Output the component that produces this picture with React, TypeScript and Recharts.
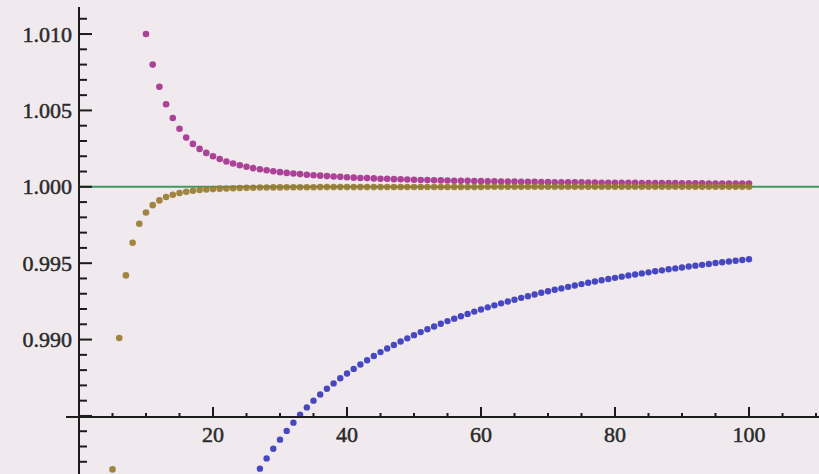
import { ComposedChart, Scatter, XAxis, YAxis } from 'recharts'

const magentaStart = 10
const magentaValues = [
  1.01, 1.008, 1.00655, 1.0054, 1.0045, 1.0038, 1.00322, 1.00281, 1.00248, 1.00222,
  1.002, 1.00182, 1.00166, 1.00153, 1.00141, 1.00131, 1.00122, 1.00115, 1.00108, 1.00102,
  1.00096, 1.00091, 1.00087, 1.00083, 1.00079, 1.00076, 1.00073, 1.0007, 1.00067, 1.00065,
  1.00063, 1.0006, 1.00058, 1.00057, 1.00055, 1.00053, 1.00052, 1.0005, 1.00049, 1.00048,
  1.00046, 1.00045, 1.00044, 1.00043, 1.00042, 1.00041, 1.0004, 1.00039, 1.00039, 1.00038,
  1.00037, 1.00036, 1.00036, 1.00035, 1.00034, 1.00034, 1.00033, 1.00033, 1.00032, 1.00031,
  1.00031, 1.0003, 1.0003, 1.00029, 1.00029, 1.00029, 1.00028, 1.00028, 1.00027, 1.00027,
  1.00027, 1.00026, 1.00026, 1.00026, 1.00025, 1.00025, 1.00025, 1.00024, 1.00024, 1.00024,
  1.00023, 1.00023, 1.00023, 1.00023, 1.00022, 1.00022, 1.00022, 1.00022, 1.00021, 1.00021,
  1.00021,
]

const oliveStart = 5
const oliveValues = [
  0.9815, 0.9901, 0.9942, 0.99634, 0.99758,
  0.99832, 0.9988, 0.99911, 0.99933, 0.99948, 0.99959, 0.99968, 0.99974, 0.99979, 0.99982,
  0.99985, 0.99988, 0.99989, 0.99991, 0.99992, 0.99993, 0.99994, 0.99995, 0.99995, 0.99996,
  0.99996, 0.99997, 0.99997, 0.99997, 0.99997, 0.99997, 0.99998, 0.99998, 0.99998, 0.99998,
  0.99998, 0.99998, 0.99998, 0.99998, 0.99998, 0.99998, 0.99999, 0.99999, 0.99999, 0.99999,
  0.99999, 0.99999, 0.99999, 0.99999, 0.99999, 0.99999, 0.99999, 0.99999, 0.99999, 0.99999,
  0.99999, 1, 1, 1, 1, 1, 1, 1, 1, 1,
  1, 1, 1, 1, 1, 1, 1, 1, 1, 1,
  1, 1, 1, 1, 1, 1, 1, 1, 1, 1,
  1, 1, 1, 1, 1, 1, 1, 1, 1, 1,
  1,
]

const blueStart = 27
const blueValues = [
  0.98155, 0.98222, 0.98285,
  0.98345, 0.98402, 0.98456, 0.98508, 0.98556, 0.986, 0.9864, 0.98678, 0.98713, 0.98747,
  0.98778, 0.98808, 0.98837, 0.98865, 0.98892, 0.98918, 0.98942, 0.98964, 0.98987, 0.99008,
  0.99029, 0.99049, 0.99068, 0.99086, 0.99104, 0.99121, 0.99137, 0.99153, 0.99168, 0.99183,
  0.99197, 0.99211, 0.99224, 0.99237, 0.99249, 0.99261, 0.99273, 0.99284, 0.99295, 0.99306,
  0.99316, 0.99326, 0.99335, 0.99345, 0.99354, 0.99363, 0.99372, 0.9938, 0.99388, 0.99396,
  0.99404, 0.99412, 0.99419, 0.99426, 0.99433, 0.9944, 0.99447, 0.99453, 0.9946, 0.99466,
  0.99472, 0.99478, 0.99484, 0.99489, 0.99495, 0.99501, 0.99506, 0.99511, 0.99516, 0.99521,
  0.99526,
]

// the constant reference curve y = 1
const greenX = [0, 112]
const greenValues = [1, 1]

const xMajor = [20, 40, 60, 80, 100]
const xTicks = [5, 10, 15, 20, 25, 30, 35, 40, 45, 50, 55, 60, 65, 70, 75, 80, 85, 90, 95, 100, 105, 110]
const yMajor = [0.985, 0.99, 0.995, 1, 1.005, 1.01]
const yLabels: Record<string, string> = {
  '0.99': '0.990',
  '0.995': '0.995',
  '1': '1.000',
  '1.005': '1.005',
  '1.01': '1.010',
}
const yTicks = [
  0.982, 0.983, 0.984, 0.985, 0.986, 0.987, 0.988, 0.989, 0.99, 0.991,
  0.992, 0.993, 0.994, 0.995, 0.996, 0.997, 0.998, 0.999, 1, 1.001,
  1.002, 1.003, 1.004, 1.005, 1.006, 1.007, 1.008, 1.009, 1.01, 1.011,
]

const toPoints = (start: number, values: number[]) =>
  values.map((y, i) => ({ x: start + i, y }))

const magentaData = toPoints(magentaStart, magentaValues)
const oliveData = toPoints(oliveStart, oliveValues)
const blueData = toPoints(blueStart, blueValues)
const greenData = greenX.map((x, i) => ({ x, y: greenValues[i] }))

const W = 819
const H = 474
const BG = '#f0eaee'
const INK = '#1c1c1c'
const FONT = '"Liberation Serif", "DejaVu Serif", serif'

const isMajor = (list: number[], v: number) => list.some((m) => Math.abs(m - v) < 1e-9)

function YTick(props: any) {
  const { x, y, payload } = props
  const v = payload.value
  const major = isMajor(yMajor, v)
  const label = yLabels[String(v)]
  return (
    <g>
      <line x1={x} x2={x + (major ? 13 : 8)} y1={y} y2={y} stroke={INK} strokeWidth={2} />
      {label && (
        <text
          x={x - 7}
          y={y + 7.5}
          textAnchor='end'
          fontFamily={FONT}
          fontSize={22}
          fill='#2a2a2a'
          stroke='#2a2a2a'
          strokeWidth={0.5}
        >
          {label}
        </text>
      )}
    </g>
  )
}

function XTick(props: any) {
  const { x, y, payload } = props
  const v = payload.value
  const major = isMajor(xMajor, v)
  return (
    <g>
      <line x1={x} x2={x} y1={y} y2={y - (major ? 10 : 4)} stroke={INK} strokeWidth={2} />
      {major && (
        <text
          x={x}
          y={y + 25}
          textAnchor='middle'
          fontFamily={FONT}
          fontSize={22}
          fill='#2a2a2a'
          stroke='#2a2a2a'
          strokeWidth={0.5}
        >
          {v}
        </text>
      )}
    </g>
  )
}

const dot = (r: number, fill: string) => (p: any) =>
  <circle cx={p.cx} cy={p.cy} r={r} fill={fill} fillOpacity={0.9} />

export default function App() {
  return (
    <div style={{ position: 'absolute', left: 0, top: 0, width: W, height: H, background: BG }}>
      <div style={{ position: 'absolute', left: 0, top: 0 }}>
        <ComposedChart width={W} height={H} margin={{ top: 7, right: 0, bottom: 0, left: 0 }}>
          <XAxis type='number' dataKey='x' domain={[0, 110.448]} allowDataOverflow hide />
          <YAxis
            type='number'
            dataKey='y'
            domain={[0.9812, 1.01177]}
            allowDataOverflow
            width={79}
            ticks={yTicks}
            interval={0}
            tickSize={0}
            tickMargin={0}
            tickLine={false}
            tick={<YTick />}
            axisLine={{ stroke: INK, strokeWidth: 2 }}
          />
          <Scatter
            data={greenData}
            line={{ stroke: '#3f9a62', strokeWidth: 2 }}
            shape={() => <g />}
            isAnimationActive={false}
          />
          <Scatter data={blueData} shape={dot(3.2, '#3535bd')} isAnimationActive={false} />
          <Scatter data={magentaData} shape={dot(3.3, '#a3308d')} isAnimationActive={false} />
          <Scatter data={oliveData} shape={dot(3.3, '#98792c')} isAnimationActive={false} />
        </ComposedChart>
      </div>
      <div style={{ position: 'absolute', left: 0, top: 0 }}>
        <ComposedChart width={W} height={H} margin={{ top: 7, right: 0, bottom: 0, left: 66 }}>
          <XAxis
            type='number'
            dataKey='x'
            domain={[-1.9403, 110.448]}
            allowDataOverflow
            height={57}
            ticks={xTicks}
            interval={0}
            tickSize={0}
            tickMargin={0}
            tickLine={false}
            tick={<XTick />}
            axisLine={{ stroke: INK, strokeWidth: 2 }}
          />
          <YAxis type='number' domain={[0, 1]} hide />
        </ComposedChart>
      </div>
    </div>
  )
}
